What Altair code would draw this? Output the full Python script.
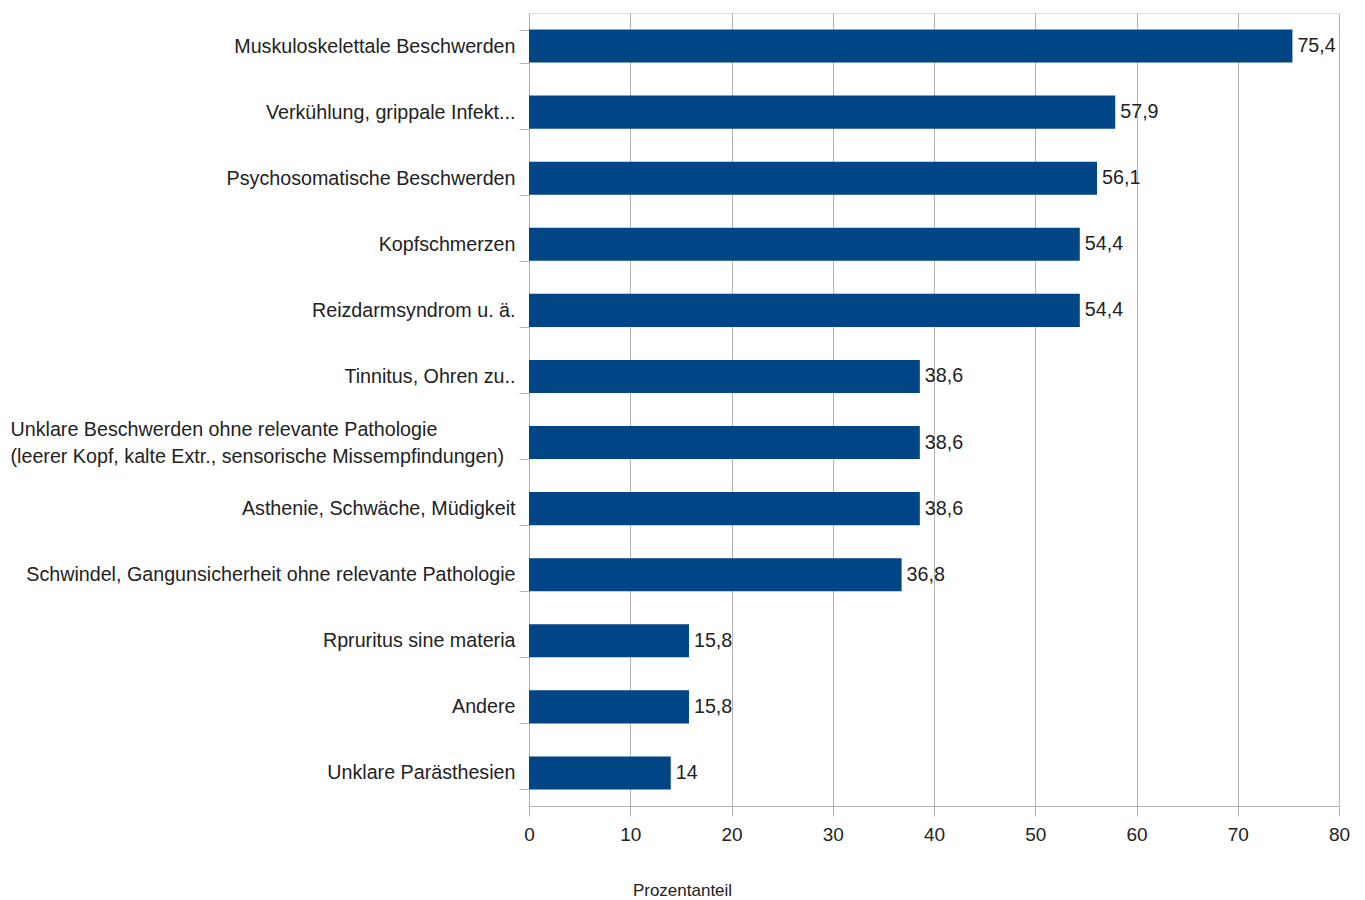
import altair as alt
import pandas as pd

categories = [
    "Muskuloskelettale Beschwerden",
    "Verkühlung, grippale Infekt...",
    "Psychosomatische Beschwerden",
    "Kopfschmerzen",
    "Reizdarmsyndrom u. ä.",
    "Tinnitus, Ohren zu..",
    "Unklare Beschwerden ohne relevante Pathologie\n(leerer Kopf, kalte Extr., sensorische Missempfindungen)",
    "Asthenie, Schwäche, Müdigkeit",
    "Schwindel, Gangunsicherheit ohne relevante Pathologie",
    "Rpruritus sine materia",
    "Andere",
    "Unklare Parästhesien",
]
values = [75.4, 57.9, 56.1, 54.4, 54.4, 38.6, 38.6, 38.6, 36.8, 15.8, 15.8, 14.0]
value_labels = ["75,4", "57,9", "56,1", "54,4", "54,4", "38,6", "38,6", "38,6", "36,8", "15,8", "15,8", "14"]
x_ticks = [0, 10, 20, 30, 40, 50, 60, 70, 80]

df = pd.DataFrame({"cat": categories, "val": values, "lab": value_labels})

FONT = "Liberation Sans"
TXT = "#222222"
GRID = "#b3b3b3"
MULTI = "isString(datum.value) && indexof(datum.value, '\\n') >= 0"

y_enc = alt.Y(
    "cat:N",
    sort=categories,
    scale=alt.Scale(paddingInner=0.5, paddingOuter=0.25),
    axis=alt.Axis(
        title=None,
        labelExpr="split(datum.label, '\\n')",
        labelFont=FONT,
        labelFontSize=19.7,
        labelColor=TXT,
        labelLineHeight=27,
        labelPadding={"condition": {"test": MULTI, "value": 509}, "value": 4},
        labelAlign={"condition": {"test": MULTI, "value": "left"}, "value": "right"},
        labelOffset={"condition": {"test": MULTI, "value": -13}, "value": 0},
        tickBand="extent",
        tickSize=10,
        tickColor=GRID,
        domainColor=GRID,
        labelLimit=700,
        grid=False,
    ),
)

x_enc = alt.X(
    "val:Q",
    scale=alt.Scale(domain=[0, 80], nice=False),
    axis=alt.Axis(
        values=x_ticks,
        title="Prozentanteil",
        titleFont=FONT,
        titleFontSize=17,
        titleFontWeight="normal",
        titleColor=TXT,
        titlePadding=38,
        titleX=153,
        titleAlign="center",
        labelFont=FONT,
        labelFontSize=19,
        labelColor=TXT,
        labelPadding=9,
        labelFlush=False,
        tickSize=10,
        tickColor=GRID,
        domainColor=GRID,
        gridColor=GRID,
        grid=True,
    ),
)

bars = alt.Chart(df).mark_bar(color="#004586").encode(x=x_enc, y=y_enc)
text = alt.Chart(df).mark_text(
    align="left", baseline="middle", dx=5, font=FONT, fontSize=19.7, color=TXT
).encode(x="val:Q", y=alt.Y("cat:N", sort=categories), text="lab:N")

chart = (
    alt.layer(bars, text)
    .properties(
        width=810,
        height=793,
        autosize=alt.AutoSizeParams(type="none"),
        padding={"left": 529, "top": 13, "right": 26, "bottom": 94},
    )
    .configure_view(stroke=GRID)
    .configure(background="white")
)

chart.save("out.html", embed_options={"renderer": "svg", "actions": False})
